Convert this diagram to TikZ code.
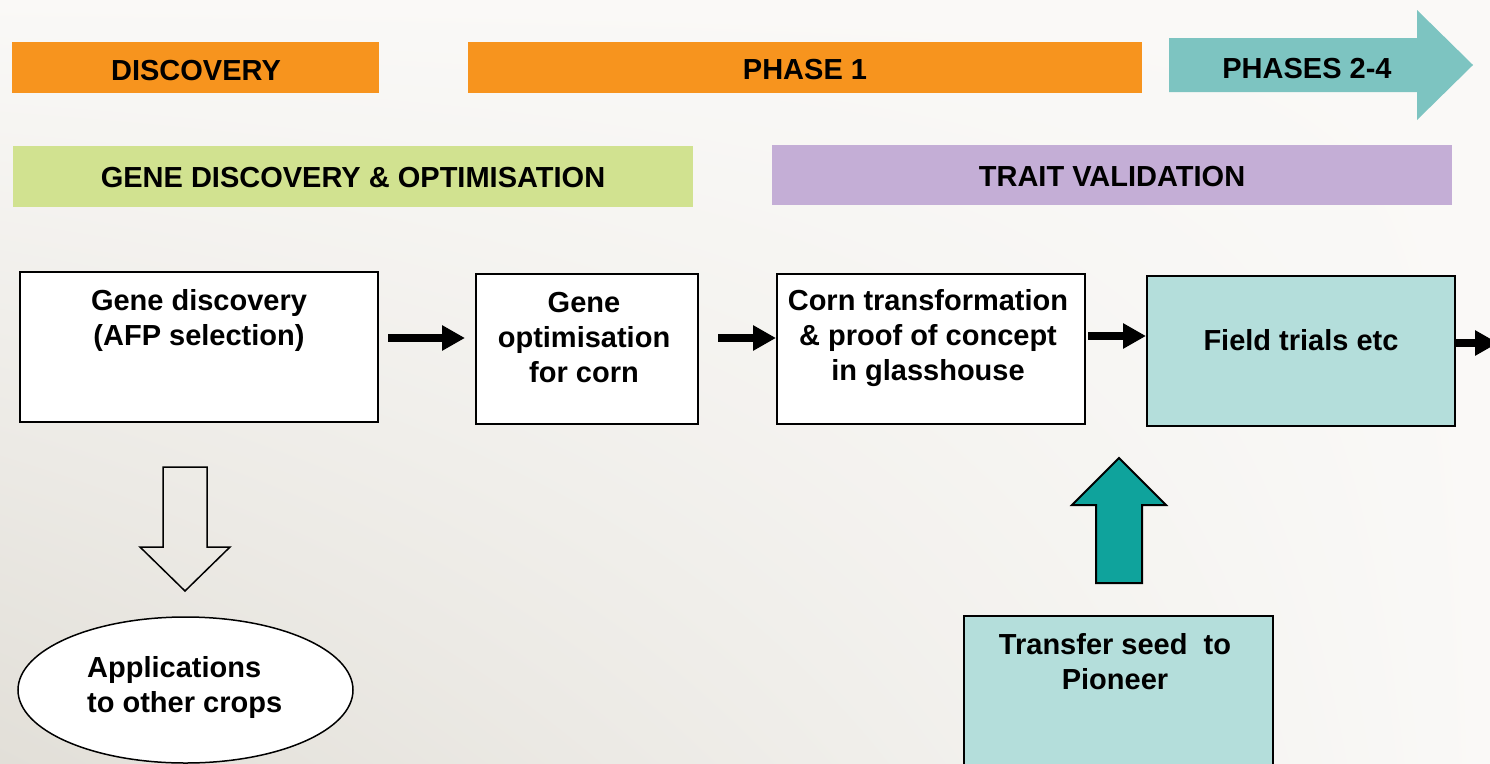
\documentclass[tikz,border=0pt]{standalone}
\usepackage{fontspec}
\setmainfont{Liberation Sans}
\usetikzlibrary{arrows.meta,shapes.geometric,calc,shadings}
\definecolor{bgA}{RGB}{250,249,247}
\definecolor{bgB}{RGB}{226,223,216}
\definecolor{orangebar}{RGB}{247,148,30}
\definecolor{phasearrow}{RGB}{125,196,193}
\definecolor{greenbar}{RGB}{209,226,144}
\definecolor{lavbar}{RGB}{196,174,214}
\definecolor{lightteal}{RGB}{180,222,219}
\definecolor{darkteal}{RGB}{15,163,156}
\tikzset{
  bigfont/.style={font=\fontsize{29}{35}\selectfont\bfseries},
  bar/.style={draw=none, inner sep=0pt, anchor=north west},
  txt/.style={bigfont, inner sep=0pt, align=center, text=black, yshift=-2pt},
  stagebox/.style={draw=black, line width=2pt, inner sep=0pt},
  conn/.style={line width=8pt, -{Triangle[length=23pt,width=24pt]}},
}
\begin{document}
\begin{tikzpicture}[x=1pt,y=-1pt]
\useasboundingbox (0,0) rectangle (1490,763);
\clip (0,0) rectangle (1490,763);
% background
\shade[upper left=bgA, upper right=bgA, lower left=bgB, lower right=bgA] (0,0) rectangle (1490,763);

% top bars
\node[bar, fill=orangebar, minimum width=367pt, minimum height=51pt] (disc) at (12,42) {};
\node[txt] at (196,69) {DISCOVERY};
\node[bar, fill=orangebar, minimum width=674pt, minimum height=51pt] (ph1) at (468,42) {};
\node[txt] at (805,68) {PHASE 1};
\fill[phasearrow] (1169,38) -- (1417,38) -- (1417,10) -- (1473,65) -- (1417,120) -- (1417,92) -- (1169,92) -- cycle;
\node[txt] (ph24) at (1307,67) {PHASES 2-4};

% second row bars
\node[bar, fill=greenbar, minimum width=680pt, minimum height=61pt] (gdo) at (13,146) {};
\node[txt] at (353,176) {GENE DISCOVERY \& OPTIMISATION};
\node[bar, fill=lavbar, minimum width=680pt, minimum height=60pt] (tv) at (772,145) {};
\node[txt] at (1112,175) {TRAIT VALIDATION};

% process boxes
\node[stagebox, fill=white, minimum width=358pt, minimum height=150pt] (b1) at (199,347) {};
\node[txt] at (199,318) {Gene discovery\\(AFP selection)};
\node[stagebox, fill=white, minimum width=222pt, minimum height=150pt] (b2) at (587,349) {};
\node[txt] at (584,336) {Gene\\optimisation\\for corn};
\node[stagebox, fill=white, minimum width=308pt, minimum height=150pt] (b3) at (931,349) {};
\node[txt] at (928,336) {Corn transformation\\\& proof of concept\\in glasshouse};
\node[stagebox, fill=lightteal, minimum width=308pt, minimum height=150pt] (b4) at (1301,351) {};
\node[txt] at (1301,338) {Field trials etc};

% connectors
\coordinate (a1) at ([xshift=9pt,yshift=9pt]b1.east);
\draw[conn, shorten >=10pt] (a1) -- (a1 -| b2.west);
\coordinate (a2) at ([xshift=19pt,yshift=11pt]b2.east);
\draw[conn] (a2) -- (a2 -| b3.west);
\coordinate (a3) at ([xshift=2pt,yshift=13pt]b3.east);
\draw[conn] (a3) -- (a3 -| b4.west);
\coordinate (a4) at ([yshift=8pt]b4.east);
\coordinate (out) at ([xshift=42pt,yshift=8pt]b4.east);
\draw[conn] (a4) -- (out);

% hollow down arrow and ellipse
\draw[line width=1.5pt, line join=miter] (163,467) -- (207,467) -- (207,547) -- (230,547) -- (185,591) -- (140,547) -- (163,547) -- cycle;
\node[ellipse, draw=black, line width=1.5pt, fill=white, minimum width=335pt, minimum height=146pt, inner sep=0pt] (apps) at (185.5,690) {};
\node[txt, align=left, anchor=west] at (87,685) {Applications\\to other crops};

% teal up arrow and transfer box
\draw[line width=2pt, fill=darkteal, line join=miter] (1096,583) -- (1096,505) -- (1072,505) -- (1119,458) -- (1166,505) -- (1142,505) -- (1142,583) -- cycle;
\node[stagebox, fill=lightteal, minimum width=309pt, minimum height=160pt] (tr) at (1118.5,696) {};
\node[txt] at (1115,660) {Transfer seed\ \ to\\Pioneer};
\end{tikzpicture}
\end{document}
